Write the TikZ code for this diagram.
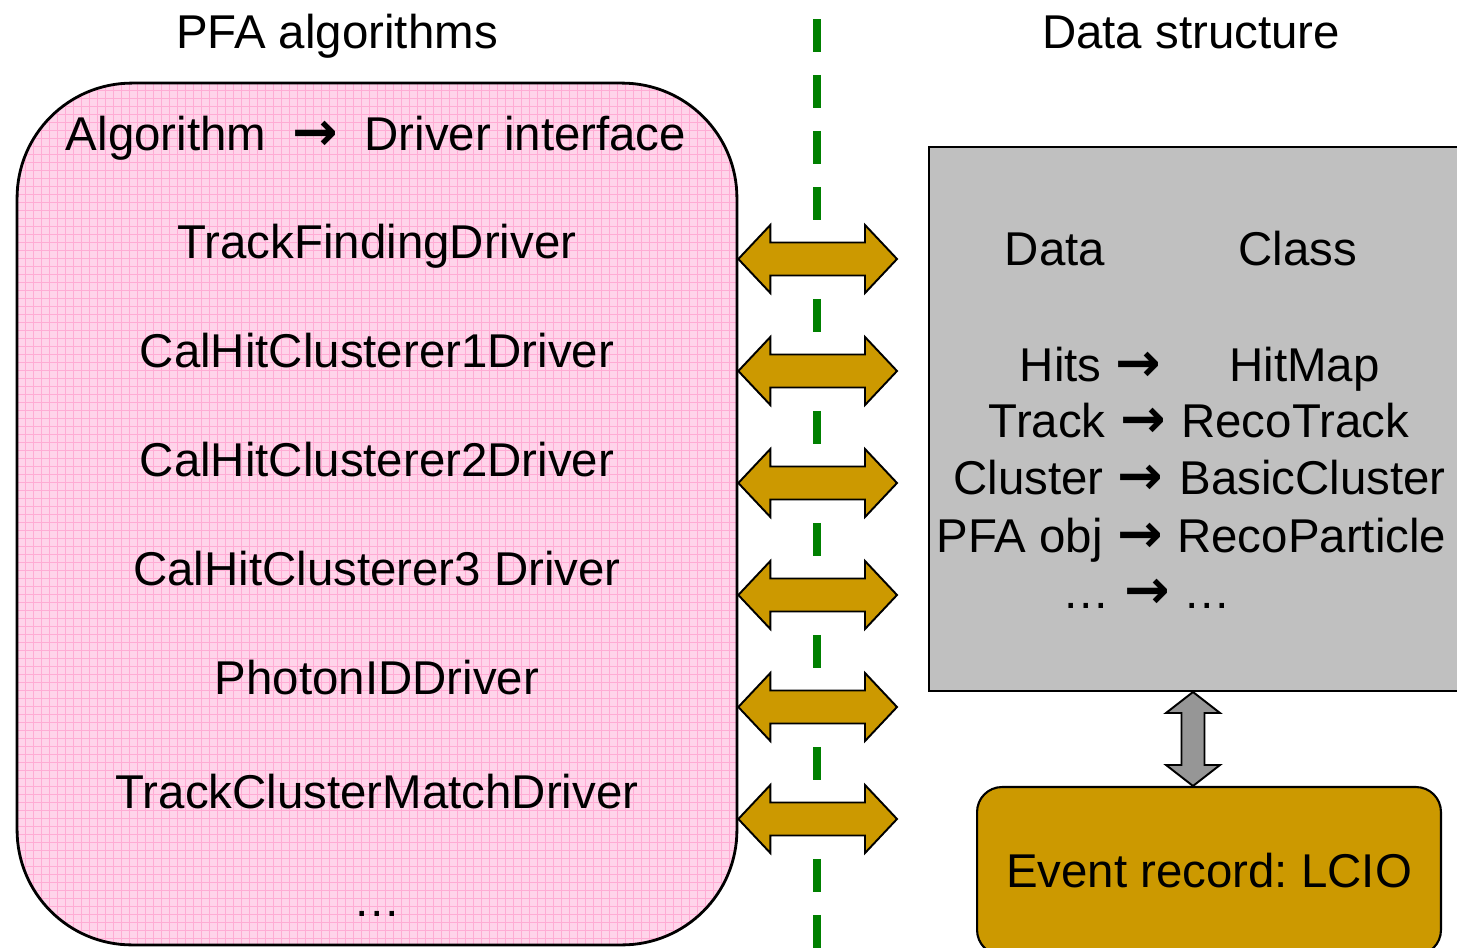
\documentclass[tikz,border=0pt]{standalone}
\usepackage{fontspec}
\setmainfont{Liberation Sans}
\newfontfamily\symfont{DejaVu Sans}
\usetikzlibrary{calc}
\definecolor{algopink}{RGB}{255,212,234}
\definecolor{gridpink}{RGB}{255,172,212}
\definecolor{gold}{RGB}{204,153,0}
\definecolor{silver}{RGB}{192,192,192}
\definecolor{linkgrey}{RGB}{150,150,150}
\definecolor{sepgreen}{RGB}{0,128,0}
\newcommand{\ra}{{\symfont\bfseries\fontsize{31}{32}\selectfont →}}
\frenchspacing

\begin{document}
\begin{tikzpicture}[
    x=0.02cm, y=-0.02cm,
    every node/.style={font=\fontsize{27}{32}\selectfont, inner sep=0pt},
    txt/.style={anchor=base},
    algobox/.style={draw=black, line width=1.6pt, fill=algopink,
                    rounded corners=2.3cm,
                    minimum width=14.4cm, minimum height=17.24cm,
                    path picture={\draw[gridpink, line width=0.4pt]
                        (path picture bounding box.south west) grid[step=0.16cm]
                        (path picture bounding box.north east);}},
    databox/.style={draw=black, line width=1.2pt, fill=silver,
                    minimum width=11.02cm, minimum height=10.88cm},
    eventbox/.style={draw=black, line width=1.2pt, fill=gold,
                     rounded corners=0.5cm,
                     minimum width=9.28cm, minimum height=3.36cm},
    linkarrow/.style={draw=black, line width=1.1pt, fill=gold, line join=miter},
    iolink/.style={draw=black, line width=1.1pt, fill=linkgrey, line join=miter},
    divider/.style={sepgreen, line width=4.5pt, dash pattern=on 0.66cm off 0.46cm},
]
\useasboundingbox (0,0) rectangle (1457,947);

% separator between the two halves
\draw[divider] (817,19) -- (817,960);

% headings
\node[txt] (hpfa) at (337,48) {PFA algorithms};
\node[txt] (hdata) at (1191,48) {Data structure};

% left: algorithms as drivers
\node[algobox] (pfa) at (377,514) {};
\node[txt] (alg) at (376,150) {Algorithm\ \ \ra\ \ Driver interface};
\node[txt] (drv1) at (377,258) {TrackFindingDriver};
\node[txt] (drv2) at (377,367) {CalHitClusterer1Driver};
\node[txt] (drv3) at (377,476) {CalHitClusterer2Driver};
\node[txt] (drv4) at (377,585) {CalHitClusterer3 Driver};
\node[txt] (drv5) at (377,694) {PhotonIDDriver};
\node[txt] (drv6) at (377,808) {TrackClusterMatchDriver};
\node[txt] (drv7) at (377,916) {\ldots};

% right: data classes
\node[databox] (data) at (1204.5,419) {};
\node[txt] (dhead) at (1055,265) {Data};
\node[txt] (chead) at (1298,265) {Class};

\node[txt, anchor=base east] (d1) at (1102,381) {Hits};
\node[txt, anchor=base east] (d2) at (1106,437) {Track};
\node[txt, anchor=base east] (d3) at (1104,494) {Cluster};
\node[txt, anchor=base east] (d4) at (1103,552) {PFA obj};
\node[txt, anchor=base east] (d5) at (1110,608) {\ldots};
\node[txt] (a1) at (1138,381) {\ra};
\node[txt] (a2) at (1143,437) {\ra};
\node[txt] (a3) at (1140,494) {\ra};
\node[txt] (a4) at (1140,552) {\ra};
\node[txt] (a5) at (1147,608) {\ra};
\node[txt, anchor=base west] (c1) at (1229,381) {HitMap};
\node[txt, anchor=base west] (c2) at (1181,437) {RecoTrack};
\node[txt, anchor=base west] (c3) at (1179,494) {BasicCluster};
\node[txt, anchor=base west] (c4) at (1177,552) {RecoParticle};
\node[txt, anchor=base west] (c5) at (1183,608) {\ldots};

\node[eventbox] (lcio) at (1209,871) {Event record: LCIO};

% double arrows between drivers and data
\foreach \yy [count=\i] in {259,371,483,595,707,819} {
  \coordinate (al\i) at (pfa.east |- 0,\yy);
  \coordinate (ar\i) at (897,\yy);
  \draw[linkarrow] (al\i) -- ++(32,-34) -- ++(0,17.5)
    -- ($(ar\i)+(-32,-16.5)$) -- ++(0,-17.5) -- (ar\i)
    -- ++(-32,34) -- ++(0,-17.5) -- ($(al\i)+(32,16.5)$)
    -- ++(0,17.5) -- cycle;
}

% data <-> event record
\coordinate (ut) at (1193,0 |- data.south);
\coordinate (ub) at (1193,0 |- lcio.north);
\draw[iolink] (ut) -- ++(27,21) -- ++(-15.5,0)
  -- ($(ub)+(11.5,-21)$) -- ++(15.5,0) -- (ub)
  -- ++(-27,-21) -- ++(15.5,0) -- ($(ut)+(-11.5,21)$)
  -- ++(-15.5,0) -- cycle;

\end{tikzpicture}
\end{document}
